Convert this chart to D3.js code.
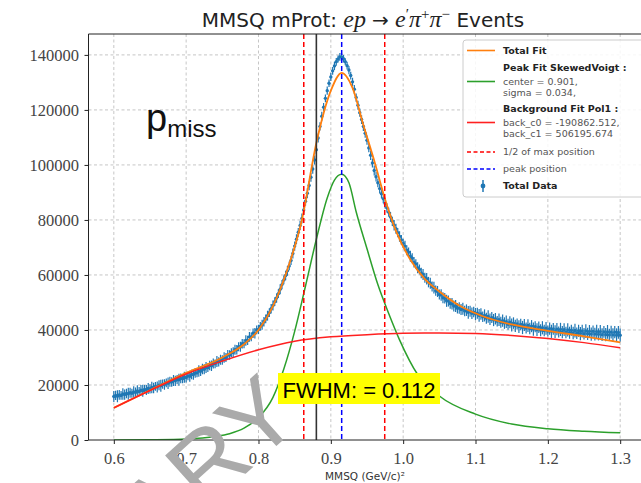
<!DOCTYPE html>
<html lang="en">
<head>
    <meta charset="UTF-8" />
    <title>MMSQ mProt Events</title>
    <script src="https://d3js.org/d3.v7.min.js"></script>
    <style>
        body {
            margin: 0;
            background: #fff;
        }

        .grid {
            stroke: #b8b8b8;
            stroke-width: 0.8;
            stroke-dasharray: 3, 2.5;
        }

        .spine {
            stroke: #222;
            stroke-width: 1;
        }

        .fit {
            fill: none;
        }

        .legend-text {
            font-family: "DejaVu Sans", sans-serif;
            font-size: 9.5px;
            fill: #555;
        }

        .legend-bold {
            font-weight: bold;
            fill: #222;
        }
    </style>
</head>

<body>
    <div id="chart"></div>

    <script>
        // ---- data (bins of 0.0025 from 0.6 to 1.3) ----
        var dataStart = 0.6;
        var dataStep = 0.0025;

        var dataCounts = [
            15800, 16200, 15900, 16400, 16200, 16700, 16500, 16900, 16800, 17200,
            17000, 17500, 17300, 17800, 17600, 18100, 17900, 18400, 18200, 18700,
            18600, 19100, 18900, 19500, 19300, 19900, 19700, 20300, 20200, 20800,
            20600, 21200, 21100, 21600, 21500, 22000, 21900, 22400, 22300, 22800,
            22700, 23300, 23200, 23800, 23800, 24400, 24400, 25100, 25000, 25800,
            25700, 26400, 26300, 27100, 27000, 27800, 27700, 28500, 28400, 29200,
            29100, 30000, 30000, 30900, 30900, 31800, 31800, 32800, 32800, 33900,
            33900, 35000, 35000, 36200, 36200, 37500, 37500, 38800, 38800, 40000,
            40200, 41300, 41900, 43000, 44000, 45200, 46300, 47700, 48900, 50300,
            51600, 53200, 54800, 56500, 58200, 59800, 61500, 63300, 65300, 67800,
            70500, 73000, 75500, 78000, 80500, 83600, 86800, 89700, 92500, 95500,
            98500, 101800, 105500, 109800, 114000, 117700, 121000, 124200, 127000, 129700,
            132000, 134200, 136000, 137500, 138500, 139300, 139200, 138600, 137500, 136100,
            134500, 132500, 130200, 127500, 124500, 121700, 119000, 116500, 114000, 111500,
            109000, 106200, 103500, 100700, 98000, 95700, 93500, 91400, 89500, 87700,
            86000, 84400, 82800, 81100, 79500, 78100, 76800, 75400, 74000, 72700,
            71500, 70500, 69000, 68300, 66800, 66100, 64600, 64000, 62600, 62000,
            60700, 60200, 59000, 58600, 57400, 57000, 55800, 55400, 54300, 54000,
            52900, 52700, 51700, 51500, 50600, 50500, 49600, 49500, 48700, 48700,
            47900, 48000, 47400, 47700, 46900, 47200, 46400, 46800, 46100, 46500,
            45800, 46100, 45300, 45800, 44800, 45300, 44300, 44900, 43900, 44500,
            43600, 44100, 43200, 43700, 42800, 43400, 42500, 43000, 42100, 42800,
            41800, 42500, 41500, 42200, 41200, 42000, 40900, 41800, 40700, 41600,
            40500, 41400, 40300, 41200, 40100, 41000, 39900, 40800, 39800, 40600,
            39600, 40500, 39500, 40400, 39400, 40300, 39300, 40200, 39200, 40100,
            39100, 40000, 39000, 39900, 38900, 39800, 38800, 39700, 38700, 39600,
            38600, 39600, 38600, 39500, 38500, 39500, 38500, 39400, 38400, 39400,
            38300, 39300, 38300, 39300, 38200, 39200, 38200, 39200, 38100, 39100,
            38100
        ];

        var dataErrors = [
            2000, 1700, 2200, 1800, 1600, 2100, 1900, 1700, 2200, 1800,
            1600, 2000, 1800, 2100, 1700, 1900, 2200, 1600, 1800, 2000,
            1700, 2100, 1900, 1600, 2000, 1800, 2200, 1700, 1900, 1600,
            2100, 1800, 1700, 2000, 1900, 1600, 2200, 1800, 1700, 2000,
            1800, 1600, 2000, 1700, 1900, 1800, 1600, 2100, 1700, 1900,
            1800, 2000, 1600, 1700, 1900, 1800, 1600, 2000, 1700, 1800,
            1700, 1900, 1600, 1800, 1700, 1600, 1900, 1800, 1700, 1600,
            1800, 1700, 1600, 1900, 1700, 1800, 1600, 1700, 1900, 1600,
            1700, 1600, 1800, 1700, 1600, 1800, 1600, 1700, 1800, 1600,
            1700, 1600, 1800, 1700, 1600, 1700, 1800, 1600, 1700, 1800,
            1700, 1800, 1600, 1700, 1800, 1700, 1600, 1800, 1700, 1600,
            1700, 1600, 1500, 1600, 1500, 1600, 1500, 1400, 1500, 1400,
            1500, 1400, 1500, 1400, 1300, 1400, 1300, 1400, 1300, 1400,
            1500, 1400, 1500, 1600, 1500, 1600, 1500, 1600, 1700, 1600,
            1700, 1600, 1700, 1600, 1800, 1700, 1600, 1800, 1700, 1600,
            1800, 1700, 1600, 1800, 1700, 1900, 1800, 1700, 1900, 1800,
            1700, 1900, 1800, 1700, 2000, 1800, 1900, 1700, 2000, 1800,
            1900, 2000, 1800, 2100, 1900, 2000, 1800, 2100, 1900, 2000,
            1800, 2100, 2000, 1900, 2200, 2000, 1900, 2100, 2000, 2200,
            1900, 2100, 2000, 2200, 1900, 2100, 2300, 2000, 2100, 1900,
            2200, 2000, 2300, 2100, 1900, 2200, 2000, 2300, 2100, 2000,
            2200, 2100, 1900, 2300, 2000, 2200, 2100, 2300, 2000, 2200,
            2400, 2100, 2200, 2000, 2300, 2100, 2400, 2200, 2000, 2300,
            2100, 2200, 2400, 2000, 2300, 2100, 2200, 2400, 2100, 2300,
            2000, 2200, 2400, 2100, 2300, 2200, 2000, 2400, 2200, 2300,
            2100, 2400, 2200, 2000, 2300, 2500, 2100, 2200, 2400, 2300,
            2100, 2500, 2200, 2300, 2400, 2100, 2300, 2500, 2200, 2400,
            2300, 2100, 2400, 2500, 2200, 2300, 2400, 2200, 2500, 2300,
            2400
        ];

        // total fit (orange)
        var totalFitX = [0.60, 0.65, 0.70, 0.75, 0.78, 0.80, 0.82, 0.84, 0.86, 0.88, 0.90, 0.915,
                         0.93, 0.945, 0.96, 0.975, 0.99, 1.01, 1.03, 1.05, 1.08, 1.11, 1.15, 1.20, 1.25, 1.30];
        var totalFitY = [11700, 18100, 24400, 30000, 34800, 40000, 48700, 62000, 80000, 108000, 127000, 133500,
                         128000, 114500, 101500, 87500, 76000, 65500, 58500, 54000, 48500, 45000, 42000, 39700, 37700, 35500];

        // peak fit skewed voigt (green)
        var peakFitX = [0.60, 0.65, 0.70, 0.74, 0.76, 0.78, 0.80, 0.82, 0.835, 0.85, 0.865, 0.88, 0.895, 0.905,
                        0.915, 0.925, 0.935, 0.95, 0.965, 0.98, 0.995, 1.02, 1.05, 1.10, 1.15, 1.20, 1.25, 1.30];
        var peakFitY = [0, 100, 400, 1300, 2300, 4300, 8100, 15500, 25800, 39500, 56000, 73000, 88000, 94500,
                        96600, 93500, 83000, 69500, 56500, 46000, 36400, 23800, 16000, 9400, 5800, 4100, 3200, 2600];

        // background fit (red)
        var backFitX = [0.60, 0.65, 0.70, 0.75, 0.80, 0.85, 0.90, 0.95, 1.00, 1.05, 1.10, 1.15, 1.20, 1.25, 1.30];
        var backFitY = [11700, 18000, 24000, 28700, 32800, 35900, 37500, 38300, 38800, 38900, 38700, 38000, 36900, 35400, 33500];

        var halfMaxPos = [0.8626, 0.9745];
        var peakPos = 0.915;
        var protonMassSq = 0.88;
        var fwhm = 0.112;

        var xTicks = [0.6, 0.7, 0.8, 0.9, 1.0, 1.1, 1.2, 1.3];
        var yTicks = [0, 20000, 40000, 60000, 80000, 100000, 120000, 140000];

        var legendLines = [
            { kind: "line", color: "#ff7f0e", rows: [["Total Fit", true]] },
            { kind: "line", color: "#2ca02c", rows: [["Peak Fit SkewedVoigt :", true], ["center = 0.901,", false], ["sigma = 0.034,", false]] },
            { kind: "line", color: "#ff2020", rows: [["Background Fit Pol1 :", true], ["back_c0 = -190862.512,", false], ["back_c1 = 506195.674", false]] },
            { kind: "dash", color: "#ff0000", rows: [["1/2 of max position", false]] },
            { kind: "dash", color: "#0000ff", rows: [["peak position", false]] },
            { kind: "err", color: "#1f77b4", rows: [["Total Data", true]] }
        ];

        function init() {
            var W = 641, H = 483;
            var margin = { top: 34, left: 88.5 };
            var w = 557, h = 406;
            var serif = "'Liberation Serif', 'Times New Roman', serif";

            var svg = d3.select("#chart")
                .append("svg")
                .attr("width", W)
                .attr("height", H);

            var xScale = d3.scaleLinear().domain([0.565, 1.335]).range([0, w]);
            var yScale = d3.scaleLinear().domain([0, 147600]).range([h, 0]);

            var g = svg.append("g")
                .attr("transform", "translate(" + margin.left + "," + margin.top + ")");

            g.append("clipPath").attr("id", "plotclip")
                .append("rect").attr("width", w).attr("height", h);

            // grid
            g.selectAll(".gx").data(xTicks).enter().append("line")
                .attr("class", "grid")
                .attr("x1", function(d) { return xScale(d); })
                .attr("x2", function(d) { return xScale(d); })
                .attr("y1", 0).attr("y2", h);
            g.selectAll(".gy").data(yTicks.slice(1)).enter().append("line")
                .attr("class", "grid")
                .attr("x1", 0).attr("x2", w)
                .attr("y1", function(d) { return yScale(d); })
                .attr("y2", function(d) { return yScale(d); });

            var plot = g.append("g").attr("clip-path", "url(#plotclip)");

            // data points with error bars
            var dataset = dataCounts.map(function(v, i) {
                return { x: dataStart + i * dataStep, y: v, e: dataErrors[i] };
            });

            plot.selectAll(".err").data(dataset).enter().append("line")
                .attr("x1", function(d) { return xScale(d.x); })
                .attr("x2", function(d) { return xScale(d.x); })
                .attr("y1", function(d) { return yScale(d.y - d.e); })
                .attr("y2", function(d) { return yScale(d.y + d.e); })
                .attr("stroke", "#1f77b4")
                .attr("stroke-width", 1.2);

            plot.selectAll(".pt").data(dataset).enter().append("circle")
                .attr("cx", function(d) { return xScale(d.x); })
                .attr("cy", function(d) { return yScale(d.y); })
                .attr("r", 1.7)
                .attr("fill", "#1f77b4");

            // fits
            function drawFit(xs, ys, color, width) {
                var pts = xs.map(function(x, i) { return [x, ys[i]]; });
                var line = d3.line()
                    .x(function(d) { return xScale(d[0]); })
                    .y(function(d) { return yScale(d[1]); })
                    .curve(d3.curveMonotoneX);
                plot.append("path")
                    .datum(pts)
                    .attr("class", "fit")
                    .attr("d", line)
                    .attr("stroke", color)
                    .attr("stroke-width", width);
            }
            drawFit(totalFitX, totalFitY, "#ff7f0e", 1.8);
            drawFit(peakFitX, peakFitY, "#2ca02c", 1.5);
            drawFit(backFitX, backFitY, "#ff2020", 1.5);

            // vertical markers
            halfMaxPos.forEach(function(p) {
                plot.append("line")
                    .attr("x1", xScale(p)).attr("x2", xScale(p))
                    .attr("y1", 0).attr("y2", h)
                    .attr("stroke", "#ff0000").attr("stroke-width", 1.5)
                    .attr("stroke-dasharray", "5,3");
            });
            plot.append("line")
                .attr("x1", xScale(protonMassSq)).attr("x2", xScale(protonMassSq))
                .attr("y1", 0).attr("y2", h)
                .attr("stroke", "#333").attr("stroke-width", 1.6);
            plot.append("line")
                .attr("x1", xScale(peakPos)).attr("x2", xScale(peakPos))
                .attr("y1", 0).attr("y2", h)
                .attr("stroke", "#0000ff").attr("stroke-width", 1.5)
                .attr("stroke-dasharray", "5,3");

            // axes
            var xAxis = d3.axisBottom(xScale).tickValues(xTicks).tickSize(4).tickSizeOuter(0)
                .tickFormat(d3.format(".1f"));
            var yAxis = d3.axisLeft(yScale).tickValues(yTicks).tickSize(4).tickSizeOuter(0)
                .tickFormat(d3.format("d"));

            var gx = g.append("g")
                .attr("transform", "translate(0," + h + ")")
                .call(xAxis);
            gx.select(".domain").remove();
            gx.selectAll("line").attr("stroke", "#222");
            gx.selectAll("text")
                .attr("dy", "1.05em")
                .style("font-family", serif)
                .style("font-size", "16.5px")
                .style("fill", "#444");

            var gy = g.append("g").call(yAxis);
            gy.select(".domain").remove();
            gy.selectAll("line").attr("stroke", "#222");
            gy.selectAll("text")
                .attr("dx", "-0.15em")
                .style("font-family", serif)
                .style("font-size", "16.5px")
                .style("fill", "#444");

            // spines
            g.append("line").attr("class", "spine").attr("x1", 0).attr("x2", 0).attr("y1", 0).attr("y2", h);
            g.append("line").attr("class", "spine").attr("x1", 0).attr("x2", w).attr("y1", h).attr("y2", h);
            g.append("line").attr("class", "spine").attr("x1", 0).attr("x2", w).attr("y1", 0).attr("y2", 0);
            g.append("line").attr("class", "spine").attr("x1", w).attr("x2", w).attr("y1", 0).attr("y2", h);

            // x label
            svg.append("text")
                .attr("x", margin.left + w / 2 - 2)
                .attr("y", 480)
                .attr("text-anchor", "middle")
                .style("font-family", "DejaVu Sans, sans-serif")
                .style("font-size", "10.5px")
                .style("fill", "#333")
                .text("MMSQ (GeV/c)²");

            // title
            var title = svg.append("text")
                .attr("x", margin.left + w / 2 - 4)
                .attr("y", 27)
                .attr("text-anchor", "middle")
                .style("font-family", "DejaVu Sans, sans-serif")
                .style("font-size", "20px")
                .style("fill", "#222");
            title.append("tspan").text("MMSQ mProt:  ");
            function mt(txt, sup) {
                var t = title.append("tspan").text(txt)
                    .style("font-family", serif)
                    .style("font-style", "italic")
                    .style("font-size", "24px");
                if (sup) t.attr("baseline-shift", "super").style("font-size", "15px").style("font-style", "normal");
                return t;
            }
            mt("ep ");
            title.append("tspan").text("→ ").style("font-family", "DejaVu Sans, sans-serif");
            mt("e");
            mt("′", true);
            mt("π");
            mt("+", true);
            mt("π");
            mt("−", true);
            title.append("tspan").text("  Events");

            // p_miss annotation
            var pm = svg.append("text")
                .attr("x", 146).attr("y", 131)
                .style("font-family", "Liberation Sans, Arial, sans-serif")
                .style("fill", "#111");
            pm.append("tspan").text("p").style("font-size", "38px");
            pm.append("tspan").text("miss").attr("dy", 6).style("font-size", "24px");

            // FWHM box
            svg.append("rect")
                .attr("x", 278).attr("y", 373)
                .attr("width", 162).attr("height", 31)
                .attr("fill", "#ffff00");
            svg.append("text")
                .attr("x", 359).attr("y", 398)
                .attr("text-anchor", "middle")
                .style("font-family", "Liberation Sans, Arial, sans-serif")
                .style("font-size", "22px")
                .style("fill", "#000")
                .text("FWHM: = " + fwhm.toFixed(3));

            // legend
            var lg = svg.append("g");
            lg.append("rect")
                .attr("x", 463).attr("y", 40)
                .attr("width", 200).attr("height", 157)
                .attr("rx", 3)
                .attr("fill", "#fff").attr("fill-opacity", 0.85)
                .attr("stroke", "#ccc").attr("stroke-width", 1);

            var rowY = [[50.5], [68, 81.5, 93], [109, 122.5, 134], [152], [169], [186]];
            legendLines.forEach(function(item, i) {
                var ys = rowY[i];
                var hy = ys.length > 1 ? ys[1] : ys[0];
                if (item.kind === "err") {
                    lg.append("line").attr("x1", 483).attr("x2", 483)
                        .attr("y1", hy - 6).attr("y2", hy + 6)
                        .attr("stroke", item.color).attr("stroke-width", 1.5);
                    lg.append("circle").attr("cx", 483).attr("cy", hy).attr("r", 2.4)
                        .attr("fill", item.color);
                } else {
                    lg.append("line").attr("x1", 467).attr("x2", 495)
                        .attr("y1", hy).attr("y2", hy)
                        .attr("stroke", item.color).attr("stroke-width", 1.6)
                        .attr("stroke-dasharray", item.kind === "dash" ? "4,2.5" : null);
                }
                item.rows.forEach(function(r, j) {
                    lg.append("text")
                        .attr("class", "legend-text" + (r[1] ? " legend-bold" : ""))
                        .attr("x", 503).attr("y", ys[j] + 3.4)
                        .text(r[0]);
                });
            });

            // watermark
            svg.append("text")
                .attr("transform", "translate(304,421) rotate(-42)")
                .attr("text-anchor", "end")
                .style("font-family", "Liberation Sans, Arial, sans-serif")
                .style("font-size", "98px")
                .style("fill", "#aaaaaa")
                .text("PRELIMINARY");
        }

        init();
    </script>
</body>
</html>
